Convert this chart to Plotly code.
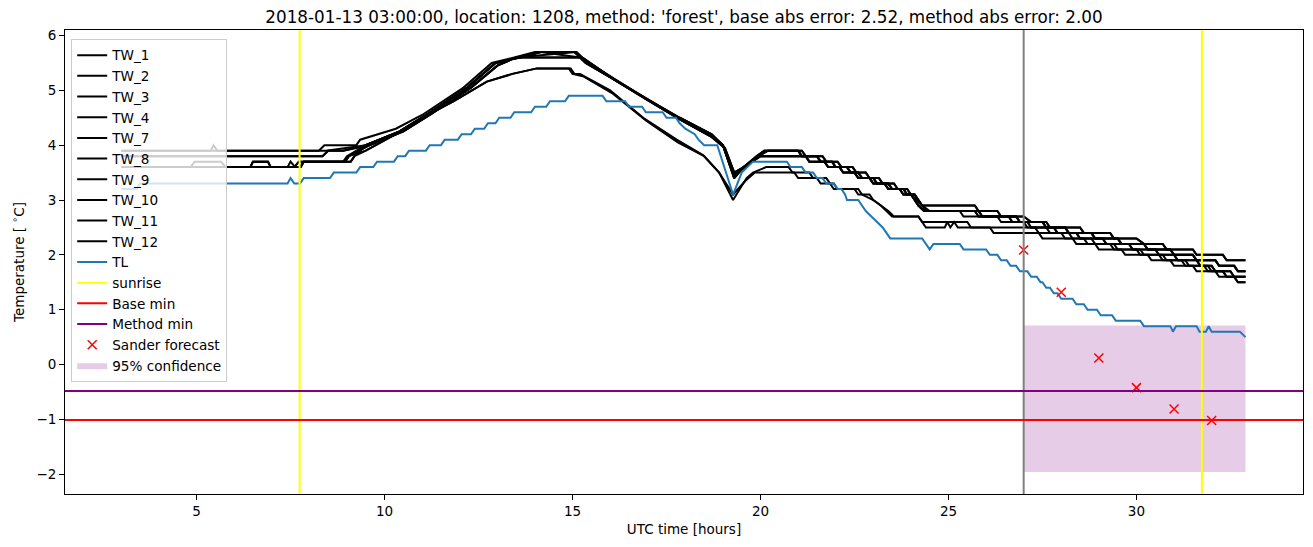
import plotly.graph_objects as go

# ---------------- data ----------------
TITLE = "2018-01-13 03:00:00, location: 1208, method: 'forest', base abs error: 2.52, method abs error: 2.00"

sunrise_times = [7.74, 31.74]
forecast_time = 27.0
base_min = -1.01
method_min = -0.48
conf_t = [27.0, 32.9]
conf_low = -1.96
conf_high = 0.71

sander_t = [27, 28, 29, 30, 31, 32]
sander_v = [2.09, 1.32, 0.12, -0.42, -0.81, -1.02]

TL = [(3.0,3.2),(3.4,3.2),(3.5,3.3),(7.42,3.3),(7.5,3.4),(7.6,3.3),(7.75,3.3),(7.85,3.4),(8.55,3.4),
      (8.65,3.5),(9.25,3.5),(9.35,3.6),(9.7,3.6),(9.8,3.7),(10.25,3.7),(10.35,3.8),(10.55,3.8),(10.65,3.9),
      (11.1,3.9),(11.2,4.0),(11.5,4.0),(11.6,4.1),(11.95,4.1),(12.05,4.2),(12.3,4.2),(12.4,4.3),(12.65,4.3),
      (12.75,4.4),(12.95,4.4),(13.05,4.5),(13.35,4.5),(13.45,4.6),(13.9,4.6),(14.0,4.7),(14.3,4.7),(14.4,4.8),
      (14.8,4.8),(14.9,4.9),(15.8,4.9),(15.9,4.8),(16.4,4.8),(16.5,4.7),(16.85,4.7),(16.95,4.6),(17.4,4.6),
      (17.5,4.5),(17.75,4.5),(17.85,4.4),(18.0,4.3),(18.25,4.2),(18.35,4.1),(18.5,4.0),(18.85,4.0),(19.27,3.1),
      (19.5,3.5),(19.64,3.6),(19.8,3.7),(20.7,3.7),(20.8,3.6),(21.1,3.6),(21.2,3.5),(21.4,3.5),(21.5,3.4),
      (21.65,3.4),(21.75,3.3),(21.95,3.3),(22.05,3.2),(22.15,3.2),(22.25,3.1),(22.3,3.0),(22.6,3.0),(22.7,2.9),
      (22.8,2.8),(22.95,2.7),(23.1,2.6),(23.25,2.5),(23.35,2.4),(23.45,2.3),(24.3,2.3),(24.4,2.2),(24.5,2.1),
      (24.6,2.2),(25.3,2.2),(25.4,2.1),(26.0,2.1),(26.1,2.0),(26.3,2.0),(26.4,1.9),(26.55,1.9),(26.65,1.8),
      (26.8,1.8),(26.9,1.7),(27.1,1.7),(27.2,1.6),(27.35,1.6),(27.45,1.5),(27.5,1.5),(27.6,1.4),(27.7,1.4),
      (27.8,1.3),(27.9,1.3),(28.0,1.2),(28.3,1.2),(28.4,1.1),(28.6,1.1),(28.7,1.0),(28.95,1.0),(29.05,0.9),
      (29.35,0.9),(29.45,0.8),(30.1,0.8),(30.2,0.7),(30.9,0.7),(30.97,0.6),(31.05,0.7),(31.6,0.7),(31.68,0.6),
      (31.85,0.6),(31.92,0.7),(32.0,0.6),(32.75,0.6),(32.9,0.5)]

# TW sensor segments (time [h], temperature [°C])
S_39spike = [(3.0,3.9),(5.38,3.9),(5.45,4.0),(5.55,3.9),(8.25,3.9)]
S_39 = [(3.0,3.9),(8.45,3.9)]
S_38 = [(3.0,3.8),(8.35,3.8),(8.5,3.9),(8.9,3.9)]
S_36a = [(3.0,3.6),(6.43,3.6),(6.5,3.7),(6.9,3.7),(6.97,3.6),(7.75,3.6),(7.85,3.7),(8.95,3.7),(9.05,3.8)]
S_36b = [(3.0,3.6),(4.84,3.6),(4.95,3.7),(5.65,3.7),(5.77,3.6),(7.42,3.6),(7.5,3.7),(7.62,3.6),(7.78,3.6),
         (7.85,3.7),(8.9,3.7),(9.0,3.8)]
S_36c = [(3.0,3.6),(7.6,3.6),(7.72,3.7),(9.1,3.7),(9.2,3.8)]

R_hi1 = [(8.4,4.0),(9.25,4.0),(9.35,4.1),(10.3,4.3),(11.0,4.55),(12.1,5.05),(12.85,5.5),(13.45,5.6),(14.0,5.7)]
R_hi2 = [(9.5,4.0),(10.4,4.25),(11.1,4.55),(12.2,5.05),(12.95,5.5),(13.6,5.6),(14.15,5.7)]
R_mid = [(9.6,4.0),(10.5,4.25),(11.2,4.55),(12.3,5.05),(13.0,5.45),(13.5,5.6)]
R_lo = [(9.5,3.9),(10.3,4.2),(11.0,4.5),(11.83,4.8),(12.19,4.95),(12.72,5.16),(13.4,5.3),(14.05,5.4)]

F_57a = [(15.05,5.7),(15.2,5.6),(16.0,5.25),(16.9,4.87),(17.8,4.5),(18.65,4.2),(19.0,4.0),(19.3,3.45)]
F_57b = [(15.1,5.7),(15.25,5.6),(16.1,5.2),(17.0,4.82),(17.9,4.45),(18.7,4.15),(19.05,3.95),(19.3,3.5)]
F_56 = [(15.2,5.6),(15.35,5.5),(16.1,5.2),(16.95,4.85),(17.85,4.5),(18.7,4.2),(19.0,4.0),(19.3,3.4)]
F_54a = [(14.95,5.4),(15.05,5.3),(15.2,5.3),(16.0,5.0),(16.88,4.5),(17.77,4.1),(18.47,3.82),(18.9,3.5),(19.27,3.0)]
F_54b = [(14.9,5.4),(15.0,5.3),(15.3,5.25),(16.05,4.95),(16.95,4.45),(17.8,4.05),(18.5,3.8),(18.9,3.5),(19.27,3.1)]

M_39a = [(19.55,3.6),(19.9,3.8),(20.1,3.9),(21.0,3.9),(21.1,3.8),(21.5,3.8),(21.6,3.7),(21.9,3.7),(22.0,3.6),
         (22.3,3.6),(22.4,3.5),(22.6,3.5),(22.7,3.4),(23.0,3.4),(23.1,3.3),(23.4,3.3),(23.5,3.2),(23.8,3.2),
         (23.9,3.1),(24.1,3.1),(24.2,3.0),(24.3,2.9)]
M_39b = [(19.6,3.6),(19.95,3.8),(20.2,3.9),(21.1,3.9),(21.2,3.8),(21.65,3.8),(21.75,3.7),(22.05,3.7),(22.15,3.6),
         (22.45,3.6),(22.55,3.5),(22.8,3.5),(22.9,3.4),(23.15,3.4),(23.25,3.3),(23.55,3.3),(23.65,3.2),(23.9,3.2),
         (24.0,3.1),(24.15,3.0),(24.3,2.9)]
M_38 = [(19.55,3.6),(20.0,3.8),(21.2,3.8),(21.3,3.7),(21.7,3.7),(21.8,3.6),(22.1,3.6),(22.2,3.5),(22.5,3.5),
        (22.6,3.4),(22.9,3.4),(23.0,3.3),(23.3,3.3),(23.4,3.2),(23.7,3.2),(23.8,3.1),(24.0,3.1),(24.1,3.0),
        (24.2,2.9),(24.35,2.8)]
M_lo_a = [(19.63,3.4),(19.8,3.5),(20.15,3.6),(20.75,3.6),(20.85,3.5),(21.3,3.5),(21.4,3.4),(21.75,3.4),(21.85,3.3),
          (21.95,3.2),(22.5,3.2),(22.6,3.1),(22.9,3.1),(23.0,3.0),(23.2,2.9),(23.35,2.8),(23.5,2.7),(24.2,2.7),(24.3,2.6)]
M_lo_b = [(19.6,3.35),(19.85,3.5),(20.9,3.5),(21.0,3.4),(21.5,3.4),(21.6,3.3),(21.95,3.3),(22.05,3.2),(22.6,3.2),
          (22.7,3.1),(23.0,3.0),(23.2,2.9),(23.4,2.8),(23.55,2.7),(24.2,2.7),(24.3,2.6)]

E1 = [(25.7,2.9),(25.8,2.8),(26.3,2.8),(26.4,2.7),(27.0,2.7),(27.2,2.6),(27.6,2.6),(27.7,2.5),(28.5,2.5),(28.6,2.4),
      (29.3,2.4),(29.4,2.3),(30.0,2.3),(30.2,2.2),(30.7,2.2),(30.8,2.1),(31.5,2.1),(31.6,2.0),(32.3,2.0),(32.4,1.9),(32.9,1.9)]
E2 = [(24.4,2.8),(25.8,2.8),(25.9,2.7),(26.8,2.7),(26.9,2.6),(27.5,2.6),(27.6,2.5),(28.1,2.5),(28.2,2.4),(28.8,2.4),
      (28.9,2.3),(29.5,2.3),(29.6,2.2),(30.2,2.2),(30.3,2.1),(30.9,2.1),(31.0,2.0),(31.5,2.0),(31.6,1.9),(32.1,1.9),
      (32.2,1.8),(32.6,1.8),(32.7,1.7),(32.9,1.7)]
E3 = [(24.45,2.8),(25.7,2.8),(25.8,2.7),(26.6,2.7),(26.7,2.6),(27.1,2.6),(27.2,2.5),(27.8,2.5),(27.9,2.4),(28.4,2.4),
      (28.5,2.3),(29.1,2.3),(29.2,2.2),(29.8,2.2),(29.9,2.1),(30.5,2.1),(30.6,2.0),(31.0,2.0),(31.1,1.9),(31.6,1.9),
      (31.7,1.8),(32.0,1.8),(32.1,1.7),(32.5,1.7),(32.6,1.6),(32.9,1.6)]
E4 = [(24.5,2.8),(25.3,2.8),(25.4,2.7),(26.3,2.7),(26.4,2.6),(27.0,2.6),(27.1,2.5),(27.6,2.5),(27.7,2.4),(28.2,2.4),
      (28.3,2.3),(28.8,2.3),(28.9,2.2),(29.4,2.2),(29.5,2.1),(30.1,2.1),(30.2,2.0),(30.7,2.0),(30.8,1.9),(31.3,1.9),
      (31.4,1.8),(31.9,1.8),(32.0,1.7),(32.3,1.7),(32.4,1.6),(32.6,1.6),(32.7,1.5),(32.9,1.5)]
La_end = [(25.5,2.6),(25.6,2.5),(27.3,2.5),(27.4,2.4),(28.0,2.4),(28.1,2.3),(28.6,2.3),(28.7,2.2),(29.3,2.2),(29.4,2.1),
          (30.0,2.1),(30.1,2.0),(30.6,2.0),(30.7,1.9),(31.2,1.9),(31.3,1.8),(31.8,1.8),(31.9,1.7),(32.3,1.7),(32.4,1.6),(32.9,1.6)]
Lb_end = [(24.4,2.5),(24.9,2.5),(24.97,2.6),(25.05,2.5),(25.15,2.6),(25.25,2.5),(26.1,2.5),(26.2,2.4),(27.4,2.4),
          (27.5,2.3),(28.3,2.3),(28.4,2.2),(28.9,2.2),(29.0,2.1),(29.6,2.1),(29.7,2.0),(30.3,2.0),(30.4,1.9),(30.9,1.9),
          (31.0,1.8),(31.5,1.8),(31.6,1.7),(32.1,1.7),(32.2,1.6),(32.6,1.6),(32.7,1.5),(32.9,1.5)]

TW_names = ["TW_1", "TW_2", "TW_3", "TW_4", "TW_7", "TW_8", "TW_9", "TW_10", "TW_11", "TW_12"]
TW_segments = {
    "TW_1": [S_39spike, R_hi1, F_57a, M_39a, E1],
    "TW_2": [S_39, R_hi2, F_57b, M_39b, E2],
    "TW_3": [S_38, R_mid, F_56, M_38, E3],
    "TW_4": [S_38, R_hi2, F_57a, M_39b, E1],
    "TW_7": [S_36a, R_mid, F_56, M_38, E2],
    "TW_8": [S_36b, R_hi2, F_57b, M_39a, E3],
    "TW_9": [S_36c, R_lo, F_54b, M_lo_b, Lb_end],
    "TW_10": [S_36a, R_mid, F_57b, M_38, E2],
    "TW_11": [S_36a, R_lo, F_54a, M_lo_a, La_end],
    "TW_12": [S_36c, R_hi2, F_56, M_39a, E4],
}

# ---------------- figure ----------------
FONT = "DejaVu Sans"
PAGE_OFFSET = 8          # default body margin of the html page
FIG_W, FIG_H = 1313 - PAGE_OFFSET, 547 - PAGE_OFFSET

fig = go.Figure()
rank = 1

# confidence band (drawn first so it sits under the lines, listed last in legend)
fig.add_trace(go.Scatter(
    x=[conf_t[0], conf_t[1], conf_t[1], conf_t[0], conf_t[0]],
    y=[conf_low, conf_low, conf_high, conf_high, conf_low],
    fill="toself", fillcolor="rgba(128,0,128,0.2)", line=dict(width=0),
    mode="lines", name="95% confidence", legendrank=100, hoverinfo="skip"))

for name in TW_names:
    pts = [p for seg in TW_segments[name] for p in seg]
    fig.add_trace(go.Scatter(x=[p[0] for p in pts], y=[p[1] for p in pts], mode="lines",
                             line=dict(color="black", width=2), name=name, legendrank=rank))
    rank += 1

fig.add_trace(go.Scatter(x=[p[0] for p in TL], y=[p[1] for p in TL], mode="lines",
                         line=dict(color="#1f77b4", width=2), name="TL", legendrank=rank))
rank += 1

# legend-only entries for the reference lines (drawn as shapes below)
for nm, col in [("sunrise", "yellow"), ("Base min", "red"), ("Method min", "purple")]:
    fig.add_trace(go.Scatter(x=[None], y=[None], mode="lines", line=dict(color=col, width=2),
                             name=nm, legendrank=rank))
    rank += 1

fig.add_trace(go.Scatter(x=sander_t, y=sander_v, mode="markers", name="Sander forecast",
                         marker=dict(symbol="x-thin", size=9, color="red",
                                     line=dict(width=1.5, color="red")),
                         legendrank=rank))

shapes = []
for st in sunrise_times:
    shapes.append(dict(type="line", xref="x", yref="paper", x0=st, x1=st, y0=0, y1=1,
                       line=dict(color="yellow", width=2)))
shapes.append(dict(type="line", xref="x", yref="paper", x0=forecast_time, x1=forecast_time, y0=0, y1=1,
                   line=dict(color="grey", width=2)))
shapes.append(dict(type="line", xref="paper", yref="y", x0=0, x1=1, y0=base_min, y1=base_min,
                   line=dict(color="red", width=2)))
shapes.append(dict(type="line", xref="paper", yref="y", x0=0, x1=1, y0=method_min, y1=method_min,
                   line=dict(color="purple", width=2)))

fig.update_layout(
    width=FIG_W, height=FIG_H,
    margin=dict(l=65 - PAGE_OFFSET, r=10, t=30 - PAGE_OFFSET, b=53, autoexpand=False),
    paper_bgcolor="white", plot_bgcolor="white",
    font=dict(family=FONT, size=14, color="black"),
    title=dict(text=TITLE, xref="paper", x=0.5, xanchor="center", yref="container",
               y=1 - (17 - PAGE_OFFSET) / FIG_H, yanchor="middle", font=dict(size=16.8, family=FONT)),
    shapes=shapes,
    showlegend=True,
    legend=dict(x=0.005, y=0.981, xanchor="left", yanchor="top",
                bgcolor="rgba(255,255,255,0.8)", bordercolor="#cccccc", borderwidth=1,
                font=dict(size=13.6, family=FONT), tracegroupgap=0, itemwidth=30),
)
axis_common = dict(showgrid=False, zeroline=False, showline=True, linecolor="black", linewidth=1,
                   mirror=True, ticks="outside", ticklen=5, tickcolor="black", tickwidth=1,
                   automargin=False, tickfont=dict(size=13.5, family=FONT))
fig.update_xaxes(range=[1.5, 34.43], tickvals=[5, 10, 15, 20, 25, 30],
                 title=dict(text="UTC time [hours]", font=dict(size=13.5), standoff=6), **axis_common)
fig.update_yaxes(range=[-2.36, 6.1], tickvals=[-2, -1, 0, 1, 2, 3, 4, 5, 6],
                 title=dict(text="Temperature [ <sup>∘</sup>C]", font=dict(size=13.5), standoff=8), **axis_common)

fig.write_html("out.html")
